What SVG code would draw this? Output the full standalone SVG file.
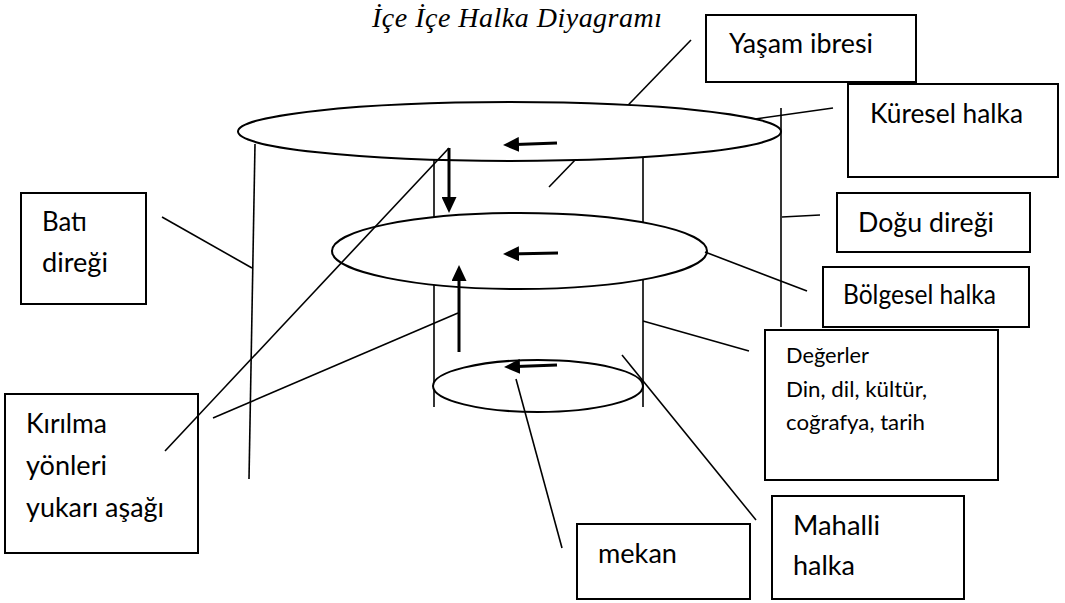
<svg xmlns="http://www.w3.org/2000/svg" width="1065" height="603" viewBox="0 0 1065 603">
<defs>
<style>
.ln{stroke:#000;stroke-width:1.6;fill:none}
.el{stroke:#000;stroke-width:2;fill:#fff}
.bx{stroke:#000;stroke-width:2;fill:#fff}
.ar{stroke:#000;stroke-width:3;fill:none}
.t{font-family:Lato,"Open Sans",sans-serif;font-size:27px;fill:#000}
.ts{font-family:Lato,"Open Sans",sans-serif;font-size:22px;fill:#000}
.title{font-family:"Liberation Serif","Times New Roman",serif;font-style:italic;font-size:28px;fill:#000}
</style>
<marker id="ah" viewBox="0 0 16 15" refX="10" refY="7.5" markerWidth="16" markerHeight="15" markerUnits="userSpaceOnUse" orient="auto">
<path d="M0,0 L16,7.5 L0,15 z" fill="#000"/>
</marker>
</defs>
<rect width="1065" height="603" fill="#fff"/>
<text class="title" x="372" y="27" textLength="290" lengthAdjust="spacing">İçe İçe Halka Diyagramı</text>

<g id="hidden-connectors">
<line class="ln" x1="691" y1="40" x2="549" y2="187"/>
<line class="ln" x1="434" y1="158" x2="434" y2="407"/>
<line class="ln" x1="643" y1="158" x2="643" y2="407"/>
</g>

<g id="ring-global"><ellipse class="el" cx="509.5" cy="131.5" rx="271.5" ry="29.5"/></g>
<g id="ring-regional"><ellipse class="el" cx="519.5" cy="251" rx="187.5" ry="38"/></g>
<g id="ring-local"><ellipse class="el" cx="538" cy="386" rx="105" ry="26"/></g>

<g id="box-yasam"><rect class="bx" x="706" y="15" width="210" height="67"/>
<text class="t" x="729" y="53" textLength="144" lengthAdjust="spacingAndGlyphs">Yaşam ibresi</text></g>
<g id="box-kuresel"><rect class="bx" x="848" y="84" width="210" height="93"/>
<text class="t" x="870" y="123" textLength="153" lengthAdjust="spacingAndGlyphs">Küresel halka</text></g>
<g id="box-dogu"><rect class="bx" x="837" y="193" width="193" height="59"/>
<text class="t" x="858" y="232" textLength="136" lengthAdjust="spacingAndGlyphs">Doğu direği</text></g>
<g id="box-bolgesel"><rect class="bx" x="823" y="267" width="206" height="60"/>
<text class="t" x="843" y="304" textLength="153" lengthAdjust="spacingAndGlyphs">Bölgesel halka</text></g>
<g id="box-degerler"><rect class="bx" x="765" y="330" width="233" height="150"/>
<text class="ts" x="786" y="363" textLength="83" lengthAdjust="spacingAndGlyphs">Değerler</text>
<text class="ts" x="786" y="397" textLength="141" lengthAdjust="spacingAndGlyphs">Din, dil, kültür,</text>
<text class="ts" x="786" y="430" textLength="139" lengthAdjust="spacingAndGlyphs">coğrafya, tarih</text></g>
<g id="box-mahalli"><rect class="bx" x="772" y="496" width="192" height="103"/>
<text class="t" x="793" y="535" textLength="87" lengthAdjust="spacingAndGlyphs">Mahalli</text>
<text class="t" x="793" y="575" textLength="62" lengthAdjust="spacingAndGlyphs">halka</text></g>
<g id="box-mekan"><rect class="bx" x="577" y="524" width="173" height="75"/>
<text class="t" x="598" y="563" textLength="79" lengthAdjust="spacingAndGlyphs">mekan</text></g>
<g id="box-bati"><rect class="bx" x="21" y="193" width="125" height="111"/>
<text class="t" x="42" y="231" textLength="45" lengthAdjust="spacingAndGlyphs">Batı</text>
<text class="t" x="42" y="272" textLength="66" lengthAdjust="spacingAndGlyphs">direği</text></g>
<g id="box-kirilma"><rect class="bx" x="5" y="394" width="193" height="159"/>
<text class="t" x="26" y="433" textLength="81" lengthAdjust="spacingAndGlyphs">Kırılma</text>
<text class="t" x="26" y="475" textLength="81" lengthAdjust="spacingAndGlyphs">yönleri</text>
<text class="t" x="26" y="517" textLength="138" lengthAdjust="spacingAndGlyphs">yukarı aşağı</text></g>

<g id="connectors">
<line class="ln" x1="255" y1="144" x2="249" y2="479"/>
<line class="ln" x1="162" y1="217" x2="252" y2="268"/>
<line class="ln" x1="781" y1="108" x2="781" y2="327"/>
<line class="ln" x1="782" y1="217" x2="820" y2="215"/>
<line class="ln" x1="833" y1="108" x2="755" y2="119"/>
<line class="ln" x1="705" y1="252" x2="807" y2="291"/>
<line class="ln" x1="643" y1="321" x2="749" y2="351"/>
<line class="ln" x1="622" y1="355" x2="756" y2="520"/>
<line class="ln" x1="516" y1="379" x2="562" y2="548"/>
<line class="ln" x1="165" y1="451" x2="449" y2="148"/>
<line class="ln" x1="213" y1="418" x2="458" y2="313"/>
<line class="ar" x1="557" y1="143" x2="509" y2="144.8" marker-end="url(#ah)"/>
<line class="ar" x1="558" y1="253" x2="509" y2="253.9" marker-end="url(#ah)"/>
<line class="ar" x1="557" y1="365" x2="510" y2="366.8" marker-end="url(#ah)"/>
<line class="ar" x1="449" y1="148" x2="449" y2="207" marker-end="url(#ah)"/>
<line class="ar" x1="459" y1="352" x2="459" y2="271" marker-end="url(#ah)"/>
</g>
</svg>
